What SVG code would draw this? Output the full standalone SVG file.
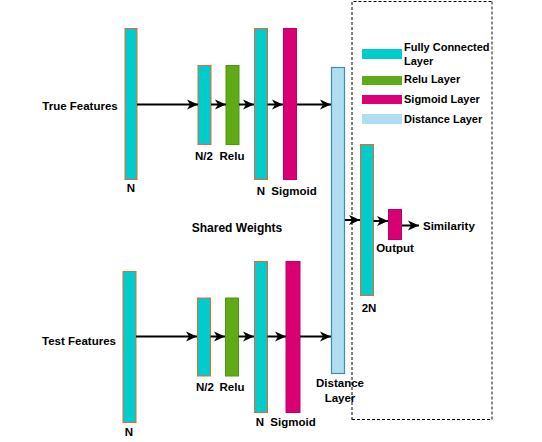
<svg xmlns="http://www.w3.org/2000/svg" width="542" height="442" viewBox="0 0 542 442">
<style>
text{font-family:"Liberation Sans",Arial,sans-serif;font-weight:bold;fill:#000}
.lbl{font-size:11.5px}
.leg{font-size:11px}
.fc{fill:#00CCCC;stroke:#F0642F;stroke-width:1}
.relu{fill:#60A917;stroke:#4A9A10;stroke-width:1}
.sig{fill:#D80073;stroke:#C0006A;stroke-width:1}
.dist{fill:#B1DDF0;stroke:#3C8DBE;stroke-width:1.2}
.conn line{stroke:#000;stroke-width:2;marker-end:url(#ah)}
</style>
<defs>
<marker id="ah" markerUnits="userSpaceOnUse" markerWidth="12" markerHeight="12" refX="11" refY="6" orient="auto">
<path d="M0,1 L11,6 L0,11 L3,6 z" fill="#000"/>
</marker>
</defs>
<rect width="542" height="442" fill="#fff"/>
<g id="group-box">
<path d="M352,420 L352,1.5 L492,1.5" fill="none" stroke="#000" stroke-width="1" stroke-dasharray="3,2"/>
<line x1="352" y1="419.5" x2="492" y2="419.5" stroke="#000" stroke-width="1" stroke-dasharray="3,2"/>
<line x1="492" y1="1.5" x2="492" y2="419.5" stroke="#888" stroke-width="2" stroke-dasharray="3,2"/>
</g>
<g id="legend">
<rect x="362" y="49" width="40" height="10" fill="#00CCCC"/>
<text class="leg" x="404" y="51">Fully Connected</text>
<text class="leg" x="404" y="65">Layer</text>
<rect x="362" y="76" width="40" height="9" fill="#60A917"/>
<text class="leg" x="404" y="83">Relu Layer</text>
<rect x="362" y="95" width="40" height="9" fill="#D80073"/>
<text class="leg" x="404" y="103">Sigmoid Layer</text>
<rect x="362" y="114" width="40" height="10" fill="#B1DDF0"/>
<text class="leg" x="404" y="123">Distance Layer</text>
</g>
<g id="true-features"><text class="lbl" x="80" y="110" text-anchor="middle">True Features</text></g>
<g id="top-n"><rect class="fc" x="125" y="28.5" width="12" height="151"/><text class="lbl" x="131" y="192" text-anchor="middle">N</text></g>
<g id="top-n2"><rect class="fc" x="198" y="65.5" width="13" height="79"/><text class="lbl" x="204" y="160" text-anchor="middle">N/2</text></g>
<g id="top-relu"><rect class="relu" x="226" y="65.5" width="13" height="79"/><text class="lbl" x="232" y="160" text-anchor="middle">Relu</text></g>
<g id="top-n-2"><rect class="fc" x="254.5" y="28.5" width="13" height="151"/><text class="lbl" x="261" y="195" text-anchor="middle">N</text></g>
<g id="top-sigmoid"><rect class="sig" x="283.5" y="28.5" width="13" height="151"/><text class="lbl" x="294" y="195" text-anchor="middle">Sigmoid</text></g>
<g id="test-features"><text class="lbl" x="79" y="345" text-anchor="middle">Test Features</text></g>
<g id="bot-n"><rect class="fc" x="123" y="271.5" width="13" height="151"/><text class="lbl" x="129" y="436" text-anchor="middle">N</text></g>
<g id="bot-n2"><rect class="fc" x="197.5" y="298" width="13" height="78"/><text class="lbl" x="205" y="391" text-anchor="middle">N/2</text></g>
<g id="bot-relu"><rect class="relu" x="225.5" y="298" width="13" height="78"/><text class="lbl" x="232" y="391" text-anchor="middle">Relu</text></g>
<g id="bot-n-2"><rect class="fc" x="254.5" y="261.5" width="13" height="151"/><text class="lbl" x="260" y="426" text-anchor="middle">N</text></g>
<g id="bot-sigmoid"><rect class="sig" x="286" y="261.5" width="14" height="151"/><text class="lbl" x="293" y="426" text-anchor="middle">Sigmoid</text></g>
<g id="shared-weights"><text x="237" y="232" text-anchor="middle" font-size="12">Shared Weights</text></g>
<g id="distance"><rect class="dist" x="331.5" y="67.5" width="13" height="306"/><text class="lbl" x="340" y="387" text-anchor="middle">Distance</text><text class="lbl" x="340" y="402" text-anchor="middle">Layer</text></g>
<g id="fc-2n"><rect class="fc" x="360.5" y="144.5" width="13" height="151"/><text class="lbl" x="369" y="312" text-anchor="middle">2N</text></g>
<g id="output"><rect class="sig" x="388.5" y="209.5" width="13" height="30"/><text class="lbl" x="395" y="252" text-anchor="middle">Output</text></g>
<g id="similarity"><text class="lbl" x="423" y="230">Similarity</text></g>
<g id="connectors" class="conn">
<line x1="137" y1="104.5" x2="198" y2="104.5"/>
<line x1="211" y1="104.5" x2="226" y2="104.5"/>
<line x1="239" y1="104.5" x2="254" y2="104.5"/>
<line x1="267.5" y1="104.5" x2="283" y2="104.5"/>
<line x1="297" y1="104.5" x2="331" y2="104.5"/>
<line x1="136" y1="336.5" x2="197" y2="336.5"/>
<line x1="210.5" y1="336.5" x2="225" y2="336.5"/>
<line x1="238.5" y1="336.5" x2="254" y2="336.5"/>
<line x1="267.5" y1="336.5" x2="286" y2="336.5"/>
<line x1="300" y1="336.5" x2="331" y2="336.5"/>
<line x1="345" y1="220" x2="360" y2="220"/>
<line x1="373.5" y1="221" x2="388" y2="221"/>
<line x1="402" y1="225.5" x2="419" y2="225.5"/>
</g>
</svg>
